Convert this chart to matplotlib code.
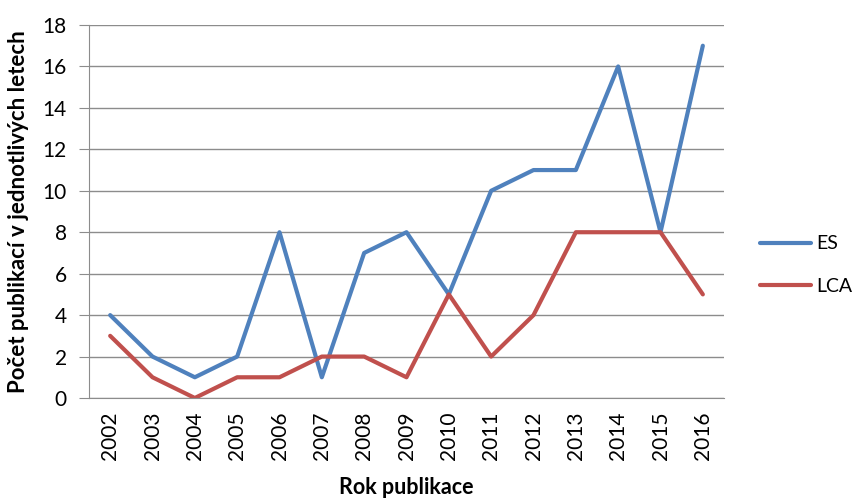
import matplotlib.pyplot as plt

# Publikace podle roku
roky = ["2002", "2003", "2004", "2005", "2006", "2007", "2008", "2009",
        "2010", "2011", "2012", "2013", "2014", "2015", "2016"]
es = [4, 2, 1, 2, 8, 1, 7, 8, 5, 10, 11, 11, 16, 8, 17]
lca = [3, 1, 0, 1, 1, 2, 2, 1, 5, 2, 4, 8, 8, 8, 5]

plt.rcParams["font.family"] = ["Lato", "DejaVu Sans"]

fig = plt.figure(figsize=(8.55, 4.99), dpi=100)
ax = fig.add_axes([89 / 855, 1 - 398 / 499, (724 - 89) / 855, (398 - 25) / 499])

x = list(range(len(roky)))
ax.plot(x, es, color="#4F81BD", lw=3, solid_capstyle="round", label="ES")
ax.plot(x, lca, color="#C0504D", lw=3, solid_capstyle="round", label="LCA")

ax.set_xlim(-0.5, len(roky) - 0.5)
ax.set_ylim(0, 18)
ax.set_yticks(range(0, 19, 2))
ax.set_xticks(x)
ax.set_xticklabels(roky, rotation=90)
ax.grid(axis="y", color="#8c8c8c", lw=1)
ax.set_axisbelow(True)

for s in ["top", "right"]:
    ax.spines[s].set_visible(False)
ax.spines["left"].set_color("#8c8c8c")
ax.spines["bottom"].set_color("#8c8c8c")
ax.tick_params(axis="y", length=7, color="#8c8c8c", labelsize=15, pad=9)
ax.tick_params(axis="x", length=0, labelsize=15, pad=10)

ax.set_xlabel("Rok publikace", fontsize=15.5, fontweight="bold", labelpad=12)
ax.set_ylabel("Počet publikací v jednotlivých letech", fontsize=16,
              fontweight="bold", labelpad=10)

fig.legend(loc="center left", bbox_to_anchor=(760 / 855, 1 - 265 / 499),
           frameon=False, fontsize=14, handlelength=2.6, handletextpad=0.3,
           labelspacing=1.3, borderpad=0, borderaxespad=0)

fig.savefig("out.png", dpi=100)
